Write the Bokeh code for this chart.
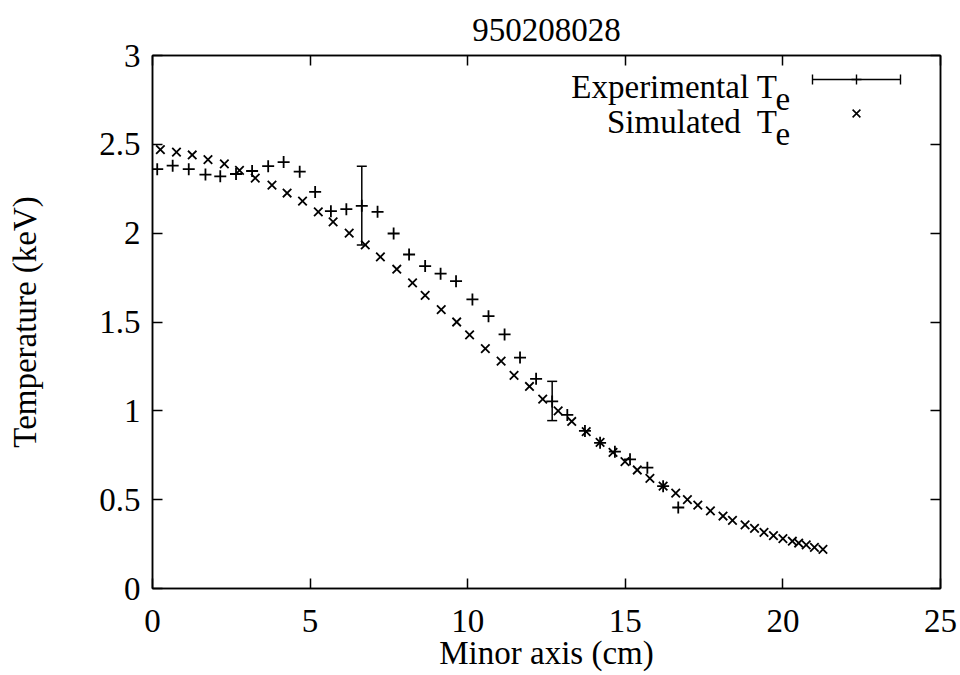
from bokeh.plotting import figure
from bokeh.models import (ColumnDataSource, Whisker, TeeHead, Label, LinearAxis,
                          FixedTicker, Range1d, Title)
from bokeh.embed import file_html
from bokeh.resources import INLINE

# ---- data -------------------------------------------------------------
shot = "950208028"
x_title = "Minor axis (cm)"
y_title = "Temperature (keV)"

# experimental electron temperature profile (Thomson scattering)
exp_r = [0.15, 0.64, 1.15, 1.68, 2.15, 2.65, 3.16, 3.67, 4.16, 4.67, 5.16, 5.66,
         6.15, 6.64, 7.14, 7.65, 8.14, 8.65, 9.14, 9.63, 10.15, 10.66, 11.17,
         11.66, 12.17, 12.68, 13.16, 13.72, 14.2, 14.67, 15.15, 15.7, 16.2, 16.68]
exp_te = [2.36, 2.38, 2.36, 2.33, 2.32, 2.333, 2.35, 2.377, 2.40, 2.346, 2.232,
          2.124, 2.135, 2.154, 2.12, 1.998, 1.88, 1.815, 1.772, 1.73, 1.627,
          1.533, 1.43, 1.30, 1.18, 1.053, 0.977, 0.887, 0.82, 0.77, 0.727, 0.68,
          0.576, 0.456]

# points carrying an error bar (index into exp arrays) and their limits
err_idx = [13, 25]
err_low = [1.934, 0.945]
err_high = [2.377, 1.166]

# simulated profile
sim_r = [0.25, 0.76, 1.26, 1.76, 2.28, 2.76, 3.26, 3.79, 4.27, 4.76, 5.26, 5.73,
         6.24, 6.75, 7.23, 7.75, 8.25, 8.65, 9.16, 9.65, 10.06, 10.56, 11.06,
         11.47, 11.96, 12.38, 12.87, 13.3, 13.76, 14.2, 14.61, 14.99, 15.38,
         15.78, 16.2, 16.6, 16.97, 17.3, 17.7, 18.1, 18.4, 18.8, 19.1, 19.4,
         19.7, 20.0, 20.3, 20.5, 20.74, 21.0, 21.27]
sim_te = [2.47, 2.456, 2.44, 2.414, 2.39, 2.354, 2.31, 2.27, 2.226, 2.18, 2.12,
          2.064, 2.0, 1.934, 1.866, 1.797, 1.72, 1.65, 1.57, 1.50, 1.428, 1.35,
          1.28, 1.20, 1.137, 1.066, 1.00, 0.94, 0.883, 0.822, 0.766, 0.714,
          0.667, 0.62, 0.576, 0.537, 0.50, 0.469, 0.437, 0.408, 0.383, 0.358,
          0.338, 0.316, 0.298, 0.281, 0.266, 0.256, 0.245, 0.232, 0.22]

x_ticks = [0, 5, 10, 15, 20, 25]
y_ticks = [0, 0.5, 1, 1.5, 2, 2.5, 3]

legend_exp = "Experimental T"
legend_sim = "Simulated\u00a0 T"
legend_sub = "e"

# ---- layout -------------------------------------------------------------
W, H = 960, 675
LEFT, RIGHT, TOP, BOTTOM = 152, 940, 55, 588
X0, X1, Y0, Y1 = 0, 25, 0, 3
FONT = "Liberation Serif"
FS = "33px"


def px_x(px):
    return X0 + (px - LEFT) / (RIGHT - LEFT) * (X1 - X0)


def px_y(py):
    return Y0 + (BOTTOM - py) / (BOTTOM - TOP) * (Y1 - Y0)


p = figure(width=W, height=H, output_backend="svg", toolbar_location=None,
           x_range=Range1d(X0, X1), y_range=Range1d(Y0, Y1),
           min_border_left=LEFT, min_border_right=W - RIGHT,
           min_border_top=TOP, min_border_bottom=H - BOTTOM)
p.title = Title(text=shot, align="center", text_font=FONT, text_font_size=FS,
                text_font_style="normal", text_color="black", standoff=30)
p.background_fill_color = "white"
p.border_fill_color = "white"
p.outline_line_color = "black"
p.outline_line_width = 1.5
p.xgrid.visible = False
p.ygrid.visible = False


def style_axis(ax, ticks, show_labels):
    ax.ticker = FixedTicker(ticks=ticks)
    if show_labels:
        ax.major_label_overrides = {t: f"{t:g}" for t in ticks}
    else:
        ax.major_label_overrides = {t: "" for t in ticks}
    ax.minor_tick_line_color = None
    ax.major_tick_in = 10
    ax.major_tick_out = 0
    ax.major_tick_line_color = "black"
    ax.major_tick_line_width = 1.5
    ax.axis_line_color = "black"
    ax.axis_line_width = 1.5
    ax.major_label_text_font = FONT
    ax.major_label_text_font_size = FS
    ax.major_label_text_color = "black"
    ax.axis_label_text_font = FONT
    ax.axis_label_text_font_size = FS
    ax.axis_label_text_font_style = "normal"
    ax.axis_label_text_color = "black"


style_axis(p.xaxis[0], x_ticks, True)
style_axis(p.yaxis[0], y_ticks, True)
p.xaxis[0].axis_label = x_title
p.yaxis[0].axis_label = y_title
p.xaxis[0].major_label_standoff = 21
p.xaxis[0].axis_label_standoff = 0
p.yaxis[0].major_label_standoff = 12
p.yaxis[0].axis_label_standoff = 53

# mirrored ticks on the top and right borders
top_ax = LinearAxis()
right_ax = LinearAxis()
style_axis(top_ax, x_ticks, False)
style_axis(right_ax, y_ticks, False)
p.add_layout(top_ax, "above")
p.add_layout(right_ax, "right")

# ---- data marks -----------------------------------------------------------
exp_src = ColumnDataSource(dict(x=exp_r, y=exp_te))
sim_src = ColumnDataSource(dict(x=sim_r, y=sim_te))
err_src = ColumnDataSource(dict(x=[exp_r[i] for i in err_idx],
                                lower=err_low, upper=err_high))

p.add_layout(Whisker(source=err_src, base="x", lower="lower", upper="upper",
                     dimension="height", line_color="black", line_width=1.5,
                     upper_head=TeeHead(size=10, line_color="black", line_width=1.5),
                     lower_head=TeeHead(size=10, line_color="black", line_width=1.5)))

MARK = 12
p.scatter("x", "y", source=exp_src, marker="cross", size=MARK,
          line_color="black", line_width=1.8)
p.scatter("x", "y", source=sim_src, marker="x", size=MARK,
          line_color="black", line_width=1.8)

# ---- key -------------------------------------------------------------------
TEXT_END = 777
ROW1, ROW2 = 86, 121          # text baselines (px from top)
SUB_DROP = 12
SUB_SHIFT = -2


def key_text(txt, px, py, align):
    p.add_layout(Label(x=px_x(px), y=px_y(py), text=txt, text_font=FONT,
                       text_font_size=FS, text_align=align,
                       text_baseline="alphabetic", text_color="black"))


key_text(legend_exp, TEXT_END, ROW1, "right")
key_text(legend_sub, TEXT_END + SUB_SHIFT, ROW1 + SUB_DROP, "left")
key_text(legend_sim, TEXT_END, ROW2, "right")
key_text(legend_sub, TEXT_END + SUB_SHIFT, ROW2 + SUB_DROP, "left")

# error-bar sample
s_x0, s_x1, s_xm, s_y = px_x(812), px_x(900), px_x(856), px_y(79)
cap = px_y(79) - px_y(84)
p.segment(x0=[s_x0, s_x0, s_x1], y0=[s_y, s_y - cap, s_y - cap],
          x1=[s_x1, s_x0, s_x1], y1=[s_y, s_y + cap, s_y + cap],
          line_color="black", line_width=1.4)
p.scatter([s_xm], [s_y], marker="cross", size=10, line_color="black", line_width=1.4)
p.scatter([px_x(856)], [px_y(113)], marker="x", size=11, line_color="black",
          line_width=1.6)

open("out.html", "w").write(file_html(p, INLINE))
